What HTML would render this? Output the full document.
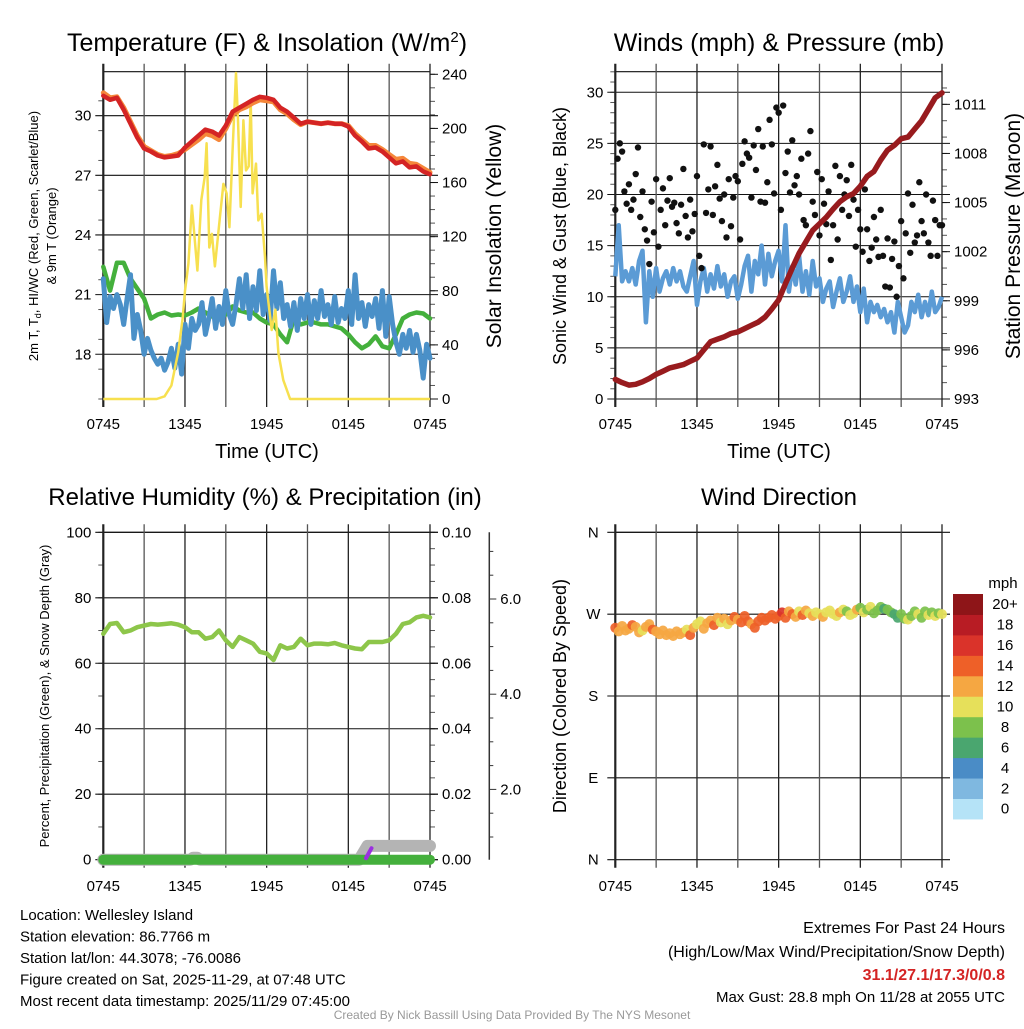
<!DOCTYPE html>
<html><head><meta charset="utf-8">
<style>
html,body{margin:0;padding:0;background:#fff;}
body{width:1024px;height:1024px;overflow:hidden;position:relative;font-family:"Liberation Sans",sans-serif;}
svg text{font-family:"Liberation Sans",sans-serif;fill:#000;}
</style></head>
<body>
<svg id="chart" width="1024" height="1024" xmlns="http://www.w3.org/2000/svg"></svg>
<script>
// ---------- DATA ----------
const timeTickLabels = ["0745","1345","1945","0145","0745"];
const tempTicks = [18,21,24,27,30];
const insoTicks = [0,40,80,120,160,200,240];
const windTicks = [0,5,10,15,20,25,30];
const presTicks = [993,996,999,1002,1005,1008,1011];
const rhTicks = [0,20,40,60,80,100];
const precipTickLabels = ["0.00","0.02","0.04","0.06","0.08","0.10"];
const snowTickLabels = ["2.0","4.0","6.0"];
const dirTickLabels = ["N","E","S","W","N"];
const colorbarLabels = ["0","2","4","6","8","10","12","14","16","18","20+"];
const colorbarColors = ["#b5e3f7","#7fb8e0","#4a8cc6","#4aa66f","#7cc14c","#e6e05a","#f5a742","#ee6028","#da332a","#b81c24","#8e1518"];

// half-hourly series (49 values, 0..24 h)
const tempRed = [31.0,30.8,30.9,30.3,29.6,28.9,28.35,28.2,28.0,27.9,27.95,28.0,28.4,28.7,29.0,29.3,29.2,29.0,29.5,30.2,30.4,30.6,30.8,30.95,30.9,30.8,30.4,30.2,29.9,29.6,29.7,29.65,29.6,29.65,29.6,29.6,29.45,29.0,28.7,28.35,28.4,28.2,27.9,27.6,27.7,27.4,27.45,27.2,27.05];
const tempOrange = [31.15,30.9,30.95,30.4,29.7,29.0,28.45,28.25,28.05,27.95,28.0,28.1,28.3,28.55,28.8,29.1,29.0,28.8,29.35,30.05,30.3,30.45,30.65,30.8,30.75,30.7,30.3,30.1,29.8,29.55,29.7,29.65,29.6,29.65,29.6,29.6,29.5,29.1,28.8,28.5,28.5,28.3,28.05,27.8,27.85,27.6,27.55,27.35,27.15];
const dewGreen = [22.4,21.2,22.6,22.6,21.8,21.3,20.8,19.8,20.0,20.1,19.95,20.0,19.95,20.1,20.3,20.1,19.9,20.2,20.0,20.4,20.2,20.1,20.1,19.8,19.6,19.5,19.0,18.6,19.8,19.5,19.6,19.6,19.5,19.5,19.4,19.3,19.0,18.6,18.3,18.5,18.9,18.4,18.3,19.0,19.8,20.0,20.1,20.05,19.8];
const pressure = [994.2,994.0,993.85,993.9,994.05,994.25,994.5,994.7,994.9,995.0,995.1,995.3,995.5,996.0,996.5,996.65,996.8,997.0,997.1,997.3,997.5,997.7,998.0,998.5,999.05,1000.05,1001.0,1001.9,1002.6,1003.3,1003.7,1004.1,1004.6,1005.05,1005.35,1005.55,1006.0,1006.6,1006.9,1007.6,1008.2,1008.5,1008.9,1009.0,1009.5,1010.0,1010.7,1011.4,1011.7];
const relHum = [69,72,72.3,69.5,70,71,71.5,72,71.8,72,72.2,71.8,71,69.5,69.5,67.5,68,70,67,65,68,67,66,63.5,63,61,65.5,64.5,65,67.5,65.5,66,66,65.8,66.2,65.5,65,64.5,64.3,66.5,66.5,66.5,67,69,72,72.5,74,74.5,74];

// quarter-hourly series (97 values)
const windChill = [21.8,19.6,20.9,20.3, 21.0,20.5,19.5,20.8, 22.0,18.8,20.0,19.2, 18.0,18.8,18.2,17.8, 17.5,17.8,17.2,17.6, 18.3,17.3,18.5,17.0, 19.5,18.3,19.8,19.2, 19.5,20.6,19.0,19.8, 20.8,19.3,20.4,19.5, 21.2,20.0,19.5,20.5, 21.8,20.3,22.0,19.8, 21.4,20.2,22.2,20.0, 21.0,19.7,22.2,20.3, 21.6,19.8,20.5,19.4, 20.6,19.2,20.8,19.8, 21.0,19.5,20.7,19.8, 21.2,19.9,20.5,19.5, 20.9,19.6,20.3,19.8, 21.2,19.5,22.0,19.8, 20.6,19.4,20.5,19.9, 20.8,19.3,21.2,18.9, 20.9,19.5,18.6,18.0, 19.0,18.3,19.2,18.1, 19.0,18.2,16.8,18.5, 17.8];
const windSpeed = [12,17,11.5,12.5, 11.5,12.8,11.2,13.5, 14.5,7.5,12.5,10.0, 12.8,10.5,11.8,12.5, 11.2,12.8,11.5,12.5, 11.0,10.5,12.0,13.5, 9.2,11.5,12.8,10.5, 12.2,10.8,13.0,11.0, 12.2,10.0,11.5,12.0, 9.8,11.2,13.0,14.0, 10.5,13.5,12.2,15.0, 11.2,14.2,12.0,13.5, 14.5,11.5,17.0,10.5, 13.0,11.2,14.0,10.5, 12.5,10.2,13.5,11.0, 11.8,9.5,10.8,11.5, 9.0,10.5,11.8,9.5, 10.5,12.0,9.5,11.0, 8.5,10.8,7.5,9.5, 8.5,9.2,8.0,8.8, 7.5,8.5,6.5,9.5, 8.0,6.5,7.2,9.5, 8.5,10.2,8.0,9.5, 8.2,10.5,8.5,9.0, 10];
const windDir = [255,251,257,252, 254,258,256,250, 252,256,259,253, 251,248,252,247, 249,246,251,248, 250,253,247,255, 259,262,254,260, 263,258,266,261, 265,259,263,267, 264,261,268,262, 259,255,262,266, 263,266,269,265, 268,272,266,273, 270,267,273,269, 274,271,268,272, 270,267,272,274, 270,268,272,275, 273,269,271,275, 277,272,275,278, 271,274,278,276, 275,272,270,266, 270,265,264,268, 273,270,266,273, 269,272,268,271, 270];
const dirSpeed = [15,13,12.5,13, 12.5,14.5,13,12.5, 10.5,13,12.5,14.5, 12.5,13,12.5,13, 12.5,12.8,12.5,13.2, 12.5,11,14.5,12.5, 10.5,11,12.5,13, 12.5,14.5,12.5,11, 12.5,10.5,13,14.5, 12.5,14.5,15,14.5, 12.5,14.5,15,14.5, 15,14.5,15.2,14.5, 15,16.5,14.5,12.5, 14.5,12.5,11,15, 12.5,11,12.5,10.5, 11,12.5,10.5,11, 10.5,11,12.5,10.5, 9,10.5,11,12.5, 8.5,11,9,10.5, 8,9,8.5,7.5, 9,8.5,7.5,6.8, 8,9,10.5,8.5, 9,10.5,9,8.5, 10.5,9,10.5,8.5, 10];

// 10-minute gusts (145 values)
const gusts = [18.5,23.5,25,24.2,20.3,19.1, 21,18.5,19.5,22,24.6,17.8, 20.3,16.6,15.5,13.2,19.3,16.3, 21.5,14.9,18.5,20.6,17,19.4, 21.6,18.8,19.2,17.2,16.2,19.0, 22.5,17.9,15.8,19.5,16.4,18.1, 21.8,14.0,12.8,24.9,18.2,20.5, 24.7,18.0,20.8,22.9,19.6,17.4, 20.0,15.8,21.5,16.9,19.7,21.8, 21.3,15.6,23.0,25.2,24.0,23.6, 19.7,24.8,22.4,26.4,19.3,24.7, 19.2,21.2,27.3,24.9,20.1,28.5, 28.0,18.5,28.7,22.1,24.2,20.2, 25.3,20.9,21.8,20.0,23.5,17.5, 17.0,24.0,26.2,19.3,18.0,22.2, 16.0,21.5,19.1,17.1,20.3,13.6, 17.0,22.8,15.6,21.8,18.5,20.0, 21.4,17.9,22.9,19.5,14.9,18.5, 16.6,14.4,20.5,16.6,13.5,14.8, 17.8,15.6,13.9,18.5,14.0,11.0, 15.7,10.9,13.7,15.4,10.0,13.0, 17.4,11.8,16.2,20.1,14.3,19.0, 15.3,16.0,21.2,17.4,16.2,20.0, 15.3,14.0,19.4,17.5,14.0,17.0, 17.0];

// insolation (irregular samples)
const insoTimes = [0,3.92,4.5,5.0,5.51,5.83,6.0,6.25,6.51,6.7,6.91,7.2,7.45,7.59,7.79,7.98,8.2,8.57,8.82,9.06,9.26,9.5,9.75,9.9,10.09,10.29,10.48,10.68,10.83,10.97,11.22,11.39,11.63,11.88,12.0,12.37,12.64,12.86,13.22,13.72,24];
const insoVals = [0,0,2,10,35,60,80,100,143,120,95,147,164,189,112,122,98,135,159,152,127,184,241,204,142,206,169,172,221,152,174,132,137,105,83,51,66,34,14,0,0];

// precipitation / snow depth
const precipTimes = [0,24];
const precipVals = [0,0];
const snowTimes = [0,6.4,6.6,6.9,7.1,18.8,19.4,24];
const snowVals = [0,0,0.6,0.6,0,0,4.2,4.2];
const precipRateTimes = [19.3,19.7];
const precipRateVals = [0.0005,0.0035];

// ---------- RENDER ----------
const svg = document.getElementById('chart');
const NS = "http://www.w3.org/2000/svg";
function mk(tag, attrs, parent){
  const e = document.createElementNS(NS, tag);
  for (const k in attrs) e.setAttribute(k, attrs[k]);
  (parent||svg).appendChild(e);
  return e;
}
function txt(s, x, y, size, anchor, parent, rot){
  const t = mk('text',{x:x,y:y,'font-size':size,'text-anchor':anchor||'middle'},parent);
  if (rot) t.setAttribute('transform','rotate('+rot+' '+x+' '+y+')');
  t.textContent = s;
  return t;
}
function linePath(xs, ys){
  let d='';
  for (let i=0;i<xs.length;i++) d += (i?'L':'M')+xs[i].toFixed(1)+' '+ys[i].toFixed(1);
  return d;
}
function idxTimes(n, step){ const a=[]; for(let i=0;i<n;i++) a.push(i*step); return a; }

function frame(g, L, R, T, B, yTicksPx, labelY){
  yTicksPx.forEach(y=>{
    const l = mk('line',{x1:L-8,x2:R+8,y1:y,y2:y,stroke:'#111','stroke-width':1.1},g);
    
    
  });
  mk('line',{x1:L,x2:R,y1:T,y2:T,stroke:'#111','stroke-width':1.1},g);
  for (let h=0; h<=24; h+=3){
    const x = L + h*(R-L)/24;
    const v = mk('line',{x1:x,x2:x,y1:T-8,y2:B+8,stroke:(h%6===0?'#222':'#555'),'stroke-width':(h===0?2.2:1.3)},g);
    
    
  }
  timeTickLabels.forEach((s,i)=>{
    const t = txt(s, L + i*6*(R-L)/24, labelY, 15, 'middle', g);
    
    
  });
}
function minorTicks(g, x, dir, y0, y1, step){
  for (let y=y0; y>=y1-0.1; y-=step){
    mk('line',{x1:x,x2:x+dir*5,y1:y,y2:y,stroke:'#555','stroke-width':1},g);
  }
}

// ===== Panel 1: Temperature =====
(function(){
  const L=103.3,R=430,T=71.7,B=399;
  const xs = h => L + h*(R-L)/24;
  const yT = v => 115.7 + (30-v)*19.88;
  const yI = v => B - v*(324.7/240);
  const g = mk('g',{});
  
  
  const title = txt('', 267, 51, 25, 'middle', g);
  title.innerHTML = 'Temperature (F) &amp; Insolation (W/m<tspan dy="-9" font-size="15">2</tspan><tspan dy="9">)</tspan>';
  
  
  minorTicks(g, L, -1, B, T, 29.82);
  minorTicks(g, R, 1, B, T, 13.53);
  frame(g, L, R, T, B, tempTicks.map(yT), 429);
  tempTicks.forEach(v=>{ const t=txt(String(v), L-12, yT(v)+5, 15, 'end', g);   });
  insoTicks.forEach(v=>{ mk('line',{x1:R,x2:R+8,y1:yI(v),y2:yI(v),stroke:'#111'},g); const t=txt(String(v), R+12, yI(v)+5, 15, 'start', g);   });
  const xl = txt('Time (UTC)', 267, 458, 20, 'middle', g);
  
  
  const yl1 = txt('2m T, T', 38, 236, 13, 'middle', g, -90);
  yl1.innerHTML = '2m T, T<tspan font-size="9" dy="3">d</tspan><tspan dy="-3">, HI/WC (Red, Green, Scarlet/Blue)</tspan>';
  
  
  const yl2 = txt('& 9m T (Orange)', 56, 236, 13, 'middle', g, -90);
  
  
  const yr = txt('Solar Insolation (Yellow)', 501, 236, 21, 'middle', g, -90);
  
  
  const cl = mk('clipPath',{id:'c1'},g); mk('rect',{x:L-4,y:T,width:R-L+8,height:B-T+2},cl);
  const dg = mk('g',{'clip-path':'url(#c1)'},g);
  const th = idxTimes(49,0.5), tq = idxTimes(97,0.25);
  let p;
  p = mk('path',{d:linePath(th.map(xs), dewGreen.map(yT)),fill:'none',stroke:'#44b03c','stroke-width':4.5,'stroke-linejoin':'round','stroke-linecap':'round'},dg);
   
  p = mk('path',{d:linePath(tq.map(xs), windChill.map(yT)),fill:'none',stroke:'#4a90c8','stroke-width':5,'stroke-linejoin':'round','stroke-linecap':'round'},dg);
   
  p = mk('path',{d:linePath(insoTimes.map(xs), insoVals.map(yI)),fill:'none',stroke:'#f7e04f','stroke-width':2.5,'stroke-linejoin':'round'},dg);
   
  p = mk('path',{d:linePath(th.map(xs), tempOrange.map(yT)),fill:'none',stroke:'#f5873a','stroke-width':5,'stroke-linejoin':'round','stroke-linecap':'round'},dg);
   
  p = mk('path',{d:linePath(th.map(xs), tempRed.map(yT)),fill:'none',stroke:'#d42424','stroke-width':4.5,'stroke-linejoin':'round','stroke-linecap':'round'},dg);
   
})();

// ===== Panel 2: Winds & Pressure =====
(function(){
  const L=615.3,R=942,T=71.7,B=399;
  const xs = h => L + h*(R-L)/24;
  const yW = v => B - v*10.225;
  const yP = v => B - (v-993)*16.37;
  const g = mk('g',{});
  
  
  const title = txt('Winds (mph) & Pressure (mb)', 779, 51, 25, 'middle', g);
   
  minorTicks(g, L, -1, B, T, 10.225);
  minorTicks(g, R, 1, B, T, 16.37);
  frame(g, L, R, T, B, windTicks.map(yW), 429);
  windTicks.forEach(v=>{ const t=txt(String(v), L-12, yW(v)+5, 15, 'end', g);   });
  presTicks.forEach(v=>{ mk('line',{x1:R,x2:R+8,y1:yP(v),y2:yP(v),stroke:'#111'},g); const t=txt(String(v), R+12, yP(v)+5, 15, 'start', g);   });
  const xl = txt('Time (UTC)', 779, 458, 20, 'middle', g);
   
  const yl = txt('Sonic Wind & Gust (Blue, Black)', 566, 236, 18, 'middle', g, -90);
   
  const yr = txt('Station Pressure (Maroon)', 1020, 236, 21, 'middle', g, -90);
   
  const th = idxTimes(49,0.5), tq = idxTimes(97,0.25), tg = idxTimes(145,1/6);
  let p = mk('path',{d:linePath(tq.map(xs), windSpeed.map(yW)),fill:'none',stroke:'#5b9bd5','stroke-width':4.5,'stroke-linejoin':'round'},g);
   
  gusts.forEach((v,i)=>{
    const c = mk('circle',{cx:xs(tg[i]),cy:yW(v),r:3.2,fill:'#111'},g);
    
    
  });
  p = mk('path',{d:linePath(th.map(xs), pressure.map(yP)),fill:'none',stroke:'#981b1e','stroke-width':5.5,'stroke-linejoin':'round','stroke-linecap':'round'},g);
   
})();

// ===== Panel 3: RH & Precip =====
(function(){
  const L=103.3,R=430,T=532.3,B=859.7;
  const xs = h => L + h*(R-L)/24;
  const yR = v => B - v*3.274;
  const yPr = v => B - v*3274;
  const g = mk('g',{});
  
  
  const title = txt('Relative Humidity (%) & Precipitation (in)', 265, 505, 24, 'middle', g);
   
  minorTicks(g, L, -1, B, T, 32.74);
  minorTicks(g, R, 1, B, T, 16.37);
  frame(g, L, R, T, B, rhTicks.map(yR), 891);
  rhTicks.forEach(v=>{ const t=txt(String(v), L-12, yR(v)+5, 15, 'end', g);   });
  precipTickLabels.forEach((s,i)=>{ const y=B-i*(B-T)/5; mk('line',{x1:R,x2:R+8,y1:y,y2:y,stroke:'#111'},g); const t=txt(s, R+12, y+5, 15, 'start', g);   });
  const ax = 489.3;
  mk('line',{x1:ax,x2:ax,y1:T,y2:B,stroke:'#333','stroke-width':1.5},g);
  for (let v=0.5; v<=7; v+=0.5){
    const y = 884.6 - v*47.6;
    if (y<T||y>B) continue;
    mk('line',{x1:ax,x2:ax+(v%2===0?7:4),y1:y,y2:y,stroke:'#333'},g);
  }
  snowTickLabels.forEach((s,i)=>{ const y=884.6-(i+1)*2*47.6; const t=txt(s, ax+11, y+5, 15, 'start', g);   });
  const yl = txt('Percent, Precipitation (Green), & Snow Depth (Gray)', 49, 696, 13, 'middle', g, -90);
   
  let p = mk('path',{d:linePath(snowTimes.map(xs), snowVals.map(yR)),fill:'none',stroke:'#b4b4b4','stroke-width':12,'stroke-linejoin':'round','stroke-linecap':'round'},g);
   
  p = mk('path',{d:linePath(precipTimes.map(xs), precipVals.map(yPr)),fill:'none',stroke:'#44b03c','stroke-width':10,'stroke-linecap':'round'},g);
   
  p = mk('path',{d:linePath(precipRateTimes.map(xs), precipRateVals.map(yPr)),fill:'none',stroke:'#9b30e0','stroke-width':4,'stroke-linecap':'round'},g);
   
  p = mk('path',{d:linePath(idxTimes(49,0.5).map(xs), relHum.map(yR)),fill:'none',stroke:'#8dc64a','stroke-width':4.5,'stroke-linejoin':'round','stroke-linecap':'round'},g);
   
})();

// ===== Panel 4: Wind direction =====
(function(){
  const L=615.3,R=942,T=532.3,B=859.7;
  const xs = h => L + h*(R-L)/24;
  const yD = d => B - d*(B-T)/360;
  const g = mk('g',{});
  
  
  const title = txt('Wind Direction', 779, 505, 24, 'middle', g);
   
  frame(g, L, R, T, B, [0,90,180,270,360].map(yD), 891);
  dirTickLabels.forEach((s,i)=>{ const t=txt(s, L-22, yD(i*90)+5, 15, 'middle', g);   });
  const yl = txt('Direction (Colored By Speed)', 566, 696, 18, 'middle', g, -90);
   
  const tq = idxTimes(97,0.25);
  function colorFor(s){ let k=Math.floor(s/2); if(k>10)k=10; if(k<0)k=0; return colorbarColors[k]; }
  windDir.forEach((d,i)=>{
    const c = mk('circle',{cx:xs(tq[i]),cy:yD(d),r:5,fill:colorFor(dirSpeed[i]),'fill-opacity':0.92},g);
    
    
  });
  const cbX=953, cbTop=594, cbH=20.45;
  const lt = txt('mph', 1003, 588, 15, 'middle', g);
   
  colorbarColors.forEach((col,i)=>{
    const y = cbTop + (10-i)*cbH;
    const r = mk('rect',{x:cbX,y:y,width:30,height:cbH+0.5,fill:col},g);
    
    
    const t = txt(colorbarLabels[i], 1005, y+cbH/2+5, 15, 'middle', g);
    
    
  });
})();

// ===== Footer text =====
(function(){
  const g = mk('g',{});
  
  
  const left = ["Location: Wellesley Island","Station elevation: 86.7766 m","Station lat/lon: 44.3078; -76.0086","Figure created on Sat, 2025-11-29, at 07:48 UTC","Most recent data timestamp: 2025/11/29 07:45:00"];
  left.forEach((s,i)=>{ const t=txt(s, 20, 920+i*21.5, 15, 'start', g);   });
  let t = txt('Extremes For Past 24 Hours', 1005, 933, 16, 'end', g);
   
  t = txt('(High/Low/Max Wind/Precipitation/Snow Depth)', 1005, 957, 16, 'end', g);
   
  t = txt('31.1/27.1/17.3/0/0.8', 1005, 980, 16, 'end', g);
  t.setAttribute('font-weight','bold'); t.style.fill='#d42424';
   
  t = txt('Max Gust: 28.8 mph On 11/28 at 2055 UTC', 1005, 1002, 15, 'end', g);
   
  t = txt('Created By Nick Bassill Using Data Provided By The NYS Mesonet', 512, 1019, 12, 'middle', g);
  t.style.fill='#999';
   
})();
</script>
</body></html>
